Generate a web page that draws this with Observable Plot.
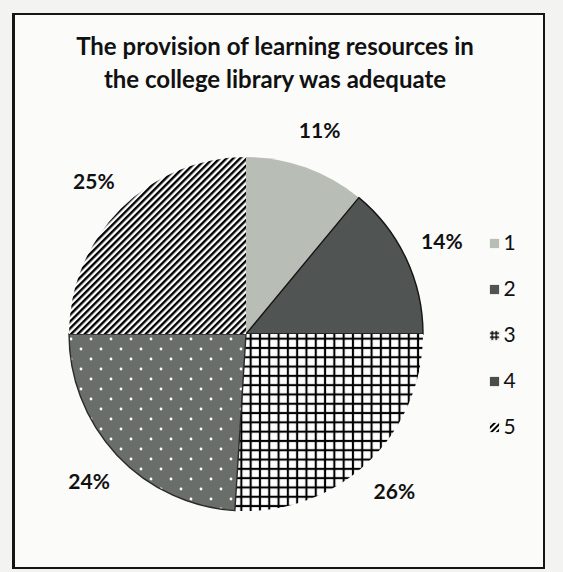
<!DOCTYPE html>
<html><head><meta charset="utf-8">
<script src="https://cdn.jsdelivr.net/npm/d3@7"></script>
<script src="https://cdn.jsdelivr.net/npm/@observablehq/plot@0.6"></script>
<style>
html,body{margin:0;padding:0;background:#f3f3f1;}
#wrap{position:relative;width:563px;height:572px;overflow:hidden;font-family:Lato,"Open Sans",sans-serif;}
#frame{position:absolute;left:12px;top:13px;width:528px;height:552px;border:2px solid #151515;border-left-width:3px;background:#fbfbfa;}
#title{position:absolute;left:0;top:29px;width:550px;text-align:center;font-weight:700;font-size:24px;line-height:33px;color:#111;}
#chart,#legend{position:absolute;top:0;}
#chart{left:0;}
#legend{left:480px;}
</style></head><body>
<div id="wrap">
  <div id="frame"></div>
  <div id="title">The provision of learning resources in<br>the college library was adequate</div>
  <div id="chart"></div>
  <div id="legend"></div>
</div>
<svg width="0" height="0" style="position:absolute">
  <defs>
    <pattern id="p1" patternUnits="userSpaceOnUse" width="10" height="10">
      <rect width="10" height="10" fill="#b8bdb6"/>
    </pattern>
    <pattern id="p2" patternUnits="userSpaceOnUse" width="10" height="10">
      <rect width="10" height="10" fill="#505452"/>
    </pattern>
    <pattern id="p3" patternUnits="userSpaceOnUse" width="9.3" height="9.3">
      <rect width="9.3" height="9.3" fill="#ffffff"/>
      <rect x="3.6" y="0" width="2.1" height="9.3" fill="#000"/>
      <rect x="0" y="3.6" width="9.3" height="2.1" fill="#000"/>
    </pattern>
    <pattern id="p4" patternUnits="userSpaceOnUse" width="20" height="20">
      <rect width="20" height="20" fill="#6a6e6a"/>
      <circle cx="5" cy="5" r="1.4" fill="#fff"/>
      <circle cx="15" cy="15" r="1.4" fill="#fff"/>
    </pattern>
    <pattern id="p5" patternUnits="userSpaceOnUse" width="4.8" height="4.8" patternTransform="rotate(45)">
      <rect width="4.8" height="4.8" fill="#ffffff"/>
      <rect x="0" y="0" width="2.4" height="4.8" fill="#000"/>
    </pattern>
    <pattern id="l3" patternUnits="userSpaceOnUse" width="4" height="4">
      <rect width="4" height="4" fill="#ffffff"/>
      <rect x="1" y="0" width="1.4" height="4" fill="#000"/>
      <rect x="0" y="1" width="4" height="1.4" fill="#000"/>
    </pattern>
    <pattern id="l4" patternUnits="userSpaceOnUse" width="10" height="10">
      <rect width="10" height="10" fill="#4a4e4b"/>
    </pattern>
    <pattern id="l5" patternUnits="userSpaceOnUse" width="4" height="4" patternTransform="rotate(45)">
      <rect width="4" height="4" fill="#ffffff"/>
      <rect x="0" y="0" width="2" height="4" fill="#000"/>
    </pattern>
  </defs>
</svg>
<script>
// Data
const categories = ["1", "2", "3", "4", "5"];
const shares = [11, 14, 26, 24, 25];
const labels = ["11%", "14%", "26%", "24%", "25%"];
const fills = ["url(#p1)", "url(#p2)", "url(#p3)", "url(#p4)", "url(#p5)"];
const legendFills = ["url(#p1)", "url(#p2)", "url(#l3)", "url(#l4)", "url(#l5)"];

const rows = categories.map((c, i) => ({cat: c, share: shares[i], label: labels[i]}));
const arcs = d3.pie().sort(null).value(d => d.share)(rows);
const color = Plot.scale({color: {type: "ordinal", domain: categories, range: fills}});
const strokeFor = {"2": "#151515", "4": "#2a2a2a"};

const labelK = 1.22;
const labelRows = arcs.map(a => {
  const mid = (a.startAngle + a.endAngle) / 2;
  return {x: labelK * Math.sin(mid), y: labelK * Math.cos(mid), label: a.data.label};
});

function pieMark(index, scales) {
  const cx = scales.x(0), cy = scales.y(0), r = scales.x(1) - scales.x(0);
  const arc = d3.arc().innerRadius(0).outerRadius(r);
  const g = d3.create("svg:g").attr("transform", `translate(${cx},${cy})`);
  g.selectAll("path").data(arcs).join("path")
    .attr("d", arc)
    .attr("fill", d => color.apply(d.data.cat))
    .attr("stroke", d => strokeFor[d.data.cat] || "none")
    .attr("stroke-width", 1.4);
  return g.node();
}

const chart = Plot.plot({
  width: 563, height: 572,
  marginLeft: 69, marginRight: 140, marginTop: 157, marginBottom: 61,
  x: {domain: [-1, 1], axis: null},
  y: {domain: [-1, 1], axis: null},
  style: {background: "transparent", fontFamily: "Lato, 'Open Sans', sans-serif"},
  marks: [
    pieMark,
    Plot.text(labelRows, {x: "x", y: "y", text: "label", fontSize: 21, fontWeight: 700, fill: "#111"})
  ]
});
document.getElementById("chart").append(chart);

const legend = Plot.plot({
  width: 70, height: 572,
  marginLeft: 0, marginRight: 0, marginTop: 242, marginBottom: 144,
  y: {type: "point", domain: categories, axis: null, padding: 0},
  color: {type: "ordinal", domain: categories, range: legendFills},
  style: {background: "transparent", fontFamily: "Lato, 'Open Sans', sans-serif"},
  marks: [
    Plot.dot(categories, {y: d => d, fill: d => d, symbol: "square", r: 5.2, frameAnchor: "left", dx: 14}),
    Plot.text(categories, {y: d => d, text: d => d, frameAnchor: "left", dx: 23, textAnchor: "start", fontSize: 21, fill: "#111"})
  ]
});
document.getElementById("legend").append(legend);
</script>
</body></html>
